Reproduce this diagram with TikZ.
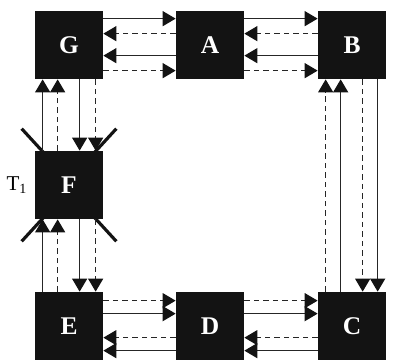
\documentclass[tikz,border=0pt]{standalone}
\usepackage{fontspec}
\setmainfont{Liberation Serif}
\usepackage{tikz}
\usetikzlibrary{calc,arrows.meta,positioning,backgrounds}
\definecolor{boxblk}{HTML}{131313}
\definecolor{linegray}{HTML}{262626}
\tikzset{
  blk/.style={fill=boxblk,text=white,minimum size=13.6mm,inner sep=0pt,font=\fontsize{14.5}{16}\selectfont\bfseries},
  ln/.style={-{Triangle[length=2.6mm,width=3mm,color=boxblk]},line width=0.7pt,linegray},
  dl/.style={ln,dash pattern=on 1.1mm off 0.8mm},
  cut/.style={line width=1.8pt,boxblk}
}
\begin{document}
\begin{tikzpicture}[x=0.2mm,y=-0.2mm]
\useasboundingbox (0,0) rectangle (398,360);
\node[blk] (G) at (69,45) {G};
\node[blk] (A) at (210,45) {A};
\node[blk] (B) at (352,45) {B};
\node[blk] (F) at (69,185) {F};
\node[blk] (E) at (69,326) {E};
\node[blk] (D) at (210,326) {D};
\node[blk] (C) at (352,326) {C};
\node[inner sep=0pt,left=1.4mm of F,font=\fontsize{12}{14}\selectfont] (tl) {T\textsubscript{1}};
% switch marks round F
\begin{scope}[on background layer]
\draw[cut] ($(F.north west)+(-13,-22)$) -- ($(F.north west)+(9,2)$);
\draw[cut] ($(F.north east)+(13,-22)$) -- ($(F.north east)+(-9,2)$);
\draw[cut] ($(F.south west)+(-13,22)$) -- ($(F.south west)+(9,-2)$);
\draw[cut] ($(F.south east)+(13,22)$) -- ($(F.south east)+(-9,-2)$);
\end{scope}
% top row
\draw[ln] ($(G.north east)+(0,8)$) -- ($(A.north west)+(0,8)$);
\draw[dl] ($(A.north west)+(0,23)$) -- ($(G.north east)+(0,23)$);
\draw[ln] ($(A.north west)+(0,45)$) -- ($(G.north east)+(0,45)$);
\draw[dl] ($(G.north east)+(0,60)$) -- ($(A.north west)+(0,60)$);
\draw[ln] ($(A.north east)+(0,8)$) -- ($(B.north west)+(0,8)$);
\draw[dl] ($(B.north west)+(0,23)$) -- ($(A.north east)+(0,23)$);
\draw[ln] ($(B.north west)+(0,45)$) -- ($(A.north east)+(0,45)$);
\draw[dl] ($(A.north east)+(0,60)$) -- ($(B.north west)+(0,60)$);
% bottom row
\draw[dl] ($(E.north east)+(0,9)$) -- ($(D.north west)+(0,9)$);
\draw[ln] ($(E.north east)+(0,22)$) -- ($(D.north west)+(0,22)$);
\draw[dl] ($(D.north west)+(0,46)$) -- ($(E.north east)+(0,46)$);
\draw[ln] ($(D.north west)+(0,59)$) -- ($(E.north east)+(0,59)$);
\draw[dl] ($(D.north east)+(0,9)$) -- ($(C.north west)+(0,9)$);
\draw[ln] ($(D.north east)+(0,22)$) -- ($(C.north west)+(0,22)$);
\draw[dl] ($(C.north west)+(0,46)$) -- ($(D.north east)+(0,46)$);
\draw[ln] ($(C.north west)+(0,59)$) -- ($(D.north east)+(0,59)$);
% left column
\draw[ln] ($(F.north west)+(8,0)$) -- ($(G.south west)+(8,0)$);
\draw[dl] ($(F.north west)+(23,0)$) -- ($(G.south west)+(23,0)$);
\draw[ln] ($(G.south west)+(45,0)$) -- ($(F.north west)+(45,0)$);
\draw[dl] ($(G.south west)+(61,0)$) -- ($(F.north west)+(61,0)$);
\draw[ln] ($(E.north west)+(8,0)$) -- ($(F.south west)+(8,0)$);
\draw[dl] ($(E.north west)+(23,0)$) -- ($(F.south west)+(23,0)$);
\draw[ln] ($(F.south west)+(45,0)$) -- ($(E.north west)+(45,0)$);
\draw[dl] ($(F.south west)+(61,0)$) -- ($(E.north west)+(61,0)$);
% right column
\draw[dl] ($(C.north west)+(8,0)$) -- ($(B.south west)+(8,0)$);
\draw[ln] ($(C.north west)+(23,0)$) -- ($(B.south west)+(23,0)$);
\draw[dl] ($(B.south west)+(45,0)$) -- ($(C.north west)+(45,0)$);
\draw[ln] ($(B.south west)+(60,0)$) -- ($(C.north west)+(60,0)$);
\end{tikzpicture}
\end{document}
